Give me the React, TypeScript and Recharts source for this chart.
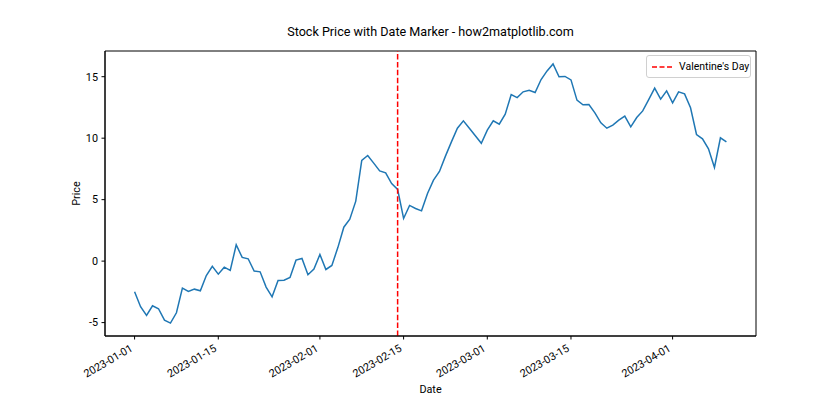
import React from 'react';
import { LineChart, Line, XAxis, YAxis, ReferenceLine, ReferenceArea, Legend } from 'recharts';

// daily closing price, 2023-01-01 .. 2023-04-10 (day index = position)
const prices = [
  -2.49, -3.71, -4.42, -3.63, -3.87, -4.8, -5.04, -4.2, -2.2, -2.47,
  -2.28, -2.41, -1.17, -0.43, -1.06, -0.49, -0.76, 1.33, 0.3, 0.19,
  -0.81, -0.87, -2.11, -2.9, -1.57, -1.55, -1.33, 0.08, 0.22, -1.11,
  -0.65, 0.54, -0.68, -0.35, 1.1, 2.76, 3.41, 4.88, 8.2, 8.59,
  7.97, 7.34, 7.18, 6.31, 5.83, 3.47, 4.53, 4.28, 4.09, 5.5,
  6.59, 7.29, 8.54, 9.7, 10.81, 11.41, 10.81, 10.2, 9.59, 10.65,
  11.41, 11.14, 11.95, 13.55, 13.3, 13.77, 13.9, 13.71, 14.77, 15.47,
  16.04, 14.99, 15.02, 14.74, 13.09, 12.71, 12.74, 12.06, 11.25, 10.81,
  11.06, 11.46, 11.79, 10.92, 11.68, 12.22, 13.14, 14.07, 13.17, 13.85,
  12.87, 13.77, 13.6, 12.47, 10.3, 9.95, 9.13, 7.62, 10.03, 9.7,
];

const tickDays = [0, 14, 31, 45, 59, 73, 90];
const tickLabels = ['2023-01-01', '2023-01-15', '2023-02-01', '2023-02-15', '2023-03-01', '2023-03-15', '2023-04-01'];
const yTicks = [-5, 0, 5, 10, 15];
const valentinesDay = 44;
const xDomain = [-4.95, 103.95];
const yDomain = [-6.09, 17.09];

const data = prices.map((price, day) => ({ day, price }));

const FONT = 'Roboto, sans-serif';

const DateTick = (props: any) => {
  const { x, y, payload } = props;
  const idx = tickDays.indexOf(payload.value);
  return (
    <g transform={`translate(${x - 1},${y + 7.5}) rotate(-30)`}>
      <text x={0} y={0} textAnchor="end" fontSize={10.8} fill="#000" fontFamily={FONT}>
        {tickLabels[idx]}
      </text>
    </g>
  );
};

const XLabel = (props: any) => {
  const { viewBox } = props;
  return (
    <text x={viewBox.x + viewBox.width / 2} y={viewBox.y + 57} textAnchor="middle" fontSize={10.8} fontFamily={FONT} fill="#000">
      Date
    </text>
  );
};

const YLabel = (props: any) => {
  const { viewBox } = props;
  const cx = viewBox.x + 31;
  const cy = viewBox.y + viewBox.height / 2;
  return (
    <text x={cx} y={cy} transform={`rotate(-90, ${cx}, ${cy})`} textAnchor="middle" dominantBaseline="central" fontSize={10.8} fontFamily={FONT} fill="#000">
      Price
    </text>
  );
};

const MarkerLegend = () => (
  <div style={{ border: '1px solid #d0d0d0', borderRadius: 3, background: '#fff', padding: '0 4px', display: 'flex', alignItems: 'center', fontFamily: FONT, fontSize: 10.5, boxSizing: 'border-box', height: 23, width: 105, whiteSpace: 'nowrap' }}>
    <svg width={22} height={6} style={{ marginRight: 6, flexShrink: 0 }}>
      <line x1={1} y1={3} x2={21} y2={3} stroke="red" strokeWidth={1.5} strokeDasharray="5 2.5" />
    </svg>
    <span>Valentine's Day</span>
  </div>
);

export default function App() {
  return (
    <div style={{ position: 'absolute', left: 0, top: 0, width: 840, height: 420, background: '#fff' }}>
      <div style={{ position: 'absolute', left: 105, width: 651, top: 25, textAlign: 'center', fontFamily: FONT, fontSize: 12.6, lineHeight: '14px', color: '#000' }}>
        Stock Price with Date Marker - how2matplotlib.com
      </div>
      <LineChart width={840} height={420} data={data} margin={{ top: 51, right: 84, bottom: 24, left: 45 }}>
        <XAxis
          dataKey="day"
          type="number"
          domain={xDomain}
          ticks={tickDays}
          tick={<DateTick />}
          tickSize={3.5}
          tickMargin={3.5}
          height={60}
          stroke="#000"
          interval={0}
          label={<XLabel />}
        />
        <YAxis
          type="number"
          domain={yDomain}
          ticks={yTicks}
          tickSize={3.5}
          tickMargin={3.5}
          width={60}
          stroke="#000"
          tick={{ fontSize: 10.8, fill: '#000', fontFamily: FONT }}
          interval={0}
          label={<YLabel />}
        />
        <ReferenceArea x1={xDomain[0]} x2={xDomain[1]} y1={yDomain[0]} y2={yDomain[1]} fill="none" stroke="#000" strokeWidth={1} />
        <Line type="linear" dataKey="price" stroke="#1f77b4" strokeWidth={1.5} dot={false} isAnimationActive={false} />
        <ReferenceLine x={valentinesDay} stroke="red" strokeWidth={1.5} strokeDasharray="5.5 2.4" />
        <Legend verticalAlign="middle" layout="horizontal" content={<MarkerLegend />} wrapperStyle={{ top: 55, left: 646, width: 105 }} />
      </LineChart>
    </div>
  );
}
